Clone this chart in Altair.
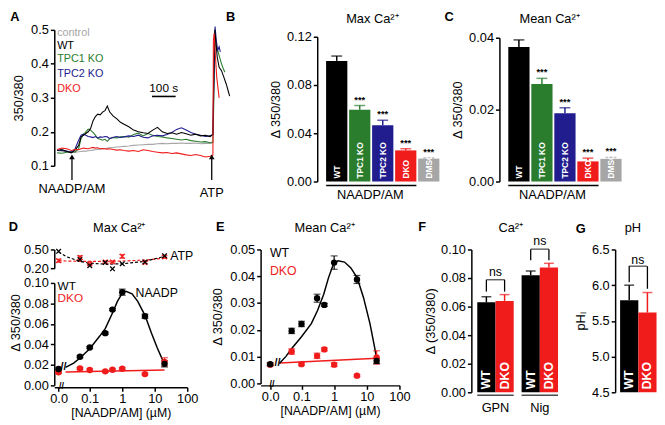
import altair as alt
import pandas as pd

FONT = "Liberation Sans"
BLACK = "#000000"
GREEN = "#2b7d2e"
BLUE = "#211d8f"
RED = "#f01c1c"
DMSO_GRAY = "#a8a19f"
CTRL_GRAY = "#a6a6a6"

# ---------------- Panel A : single-cell traces ----------------
a_time = [0, 20, 40, 60, 75, 90, 100, 110, 120, 130, 140, 150, 160, 170, 180, 190, 200, 210, 220, 235,
          250, 265, 280, 300, 320, 340, 360, 380, 400, 420, 440, 460, 480, 500, 520, 540, 560, 580,
          600, 620, 640, 652]
a_control = [0.145, 0.143, 0.142, 0.140, 0.140, 0.141, 0.142, 0.143, 0.143, 0.144,
             0.145, 0.146, 0.147, 0.148, 0.149, 0.150, 0.150, 0.152, 0.153, 0.154,
             0.155, 0.156, 0.157, 0.158, 0.160, 0.161, 0.162, 0.163, 0.163, 0.165,
             0.166, 0.165, 0.166, 0.166, 0.167, 0.166, 0.166, 0.167, 0.165, 0.166,
             0.166, 0.167]
a_wt = [0.145, 0.148, 0.142, 0.138, 0.146, 0.160, 0.185, 0.190, 0.195, 0.200,
        0.210, 0.232, 0.245, 0.252, 0.250, 0.258, 0.262, 0.276, 0.258, 0.246,
        0.238, 0.228, 0.222, 0.215, 0.205, 0.200, 0.197, 0.195, 0.205, 0.213,
        0.200, 0.195, 0.197, 0.193, 0.198, 0.194, 0.190, 0.193, 0.188, 0.190,
        0.186, 0.192]
a_tpc1 = [0.138, 0.137, 0.140, 0.142, 0.140, 0.150, 0.180, 0.192, 0.200, 0.208,
          0.205, 0.198, 0.190, 0.180, 0.178, 0.175, 0.178, 0.172, 0.180, 0.183,
          0.182, 0.185, 0.186, 0.184, 0.192, 0.196, 0.188, 0.195, 0.190, 0.186,
          0.185, 0.182, 0.180, 0.178, 0.176, 0.178, 0.174, 0.172, 0.170, 0.171,
          0.168, 0.170]
a_tpc2 = [0.146, 0.145, 0.143, 0.140, 0.150, 0.175, 0.190, 0.193, 0.190, 0.186,
          0.185, 0.183, 0.186, 0.182, 0.185, 0.184, 0.186, 0.185, 0.180, 0.184,
          0.186, 0.183, 0.185, 0.188, 0.186, 0.190, 0.184, 0.182, 0.188, 0.190,
          0.188, 0.192, 0.198, 0.207, 0.212, 0.205, 0.198, 0.193, 0.190, 0.186,
          0.188, 0.192]
a_dko = [0.148, 0.152, 0.150, 0.145, 0.148, 0.147, 0.150, 0.152, 0.151, 0.150,
         0.152, 0.154, 0.152, 0.153, 0.150, 0.151, 0.150, 0.149, 0.150, 0.148,
         0.146, 0.147, 0.145, 0.143, 0.145, 0.142, 0.147, 0.145, 0.142, 0.140,
         0.138, 0.139, 0.136, 0.138, 0.135, 0.132, 0.130, 0.133, 0.130, 0.126,
         0.128, 0.131]
# after ATP
a_wt_atp_t = [656, 660, 665, 670, 678, 688, 698, 708, 716, 722]
a_wt_atp_v = [0.40, 0.50, 0.46, 0.42, 0.39, 0.38, 0.36, 0.34, 0.32, 0.305]
a_tpc1_atp_t = [656, 661, 666, 672, 680, 688, 696, 702]
a_tpc1_atp_v = [0.30, 0.47, 0.45, 0.44, 0.42, 0.40, 0.385, 0.375]
a_tpc2_atp_t = [656, 661, 666, 672, 678, 683]
a_tpc2_atp_v = [0.35, 0.51, 0.47, 0.44, 0.45, 0.435]
a_dko_atp_t = [654, 657, 661, 668, 678]
a_dko_atp_v = [0.47, 0.49, 0.44, 0.36, 0.30]

a_names = ["control", "WT", "TPC1 KO", "TPC2 KO", "DKO"]
a_colors = [CTRL_GRAY, BLACK, GREEN, BLUE, RED]
a_legend_v = [0.490, 0.452, 0.413, 0.370, 0.327]

# ---------------- Panels B, C ----------------
bc_cats = ["WT", "TPC1 KO", "TPC2 KO", "DKO", "DMSO"]
bc_colors = [BLACK, GREEN, BLUE, RED, DMSO_GRAY]
bc_sig = ["", "***", "***", "***", "***"]
b_max = [0.100, 0.0595, 0.0467, 0.0258, 0.0190]
b_max_err = [0.0040, 0.0035, 0.0041, 0.0014, 0.0006]
c_mean = [0.0374, 0.0271, 0.0190, 0.0056, 0.0063]
c_mean_err = [0.0020, 0.0016, 0.0015, 0.0009, 0.0004]

# ---------------- Panels D, E ----------------
conc = [0.011, 0.05, 0.1, 0.3, 0.5, 1, 5, 20]   # first point is "0.0"
d_max_wt = [0.016, 0.028, 0.037, 0.051, 0.074, 0.091, 0.0675, 0.021]
d_max_wt_err = [0.001, 0.001, 0.001, 0.001, 0.001, 0.003, 0.002, 0.003]
d_max_dko = [0.0127, 0.0166, 0.0150, 0.0137, 0.0153, 0.0163, 0.0110, 0.0230]
d_max_dko_err = [0.001, 0.001, 0.001, 0.001, 0.001, 0.001, 0.001, 0.004]
d_fit_x = [0.018, 0.032, 0.05, 0.1, 0.2, 0.3, 0.5, 0.71, 1.0, 1.3, 2.0, 3.0, 5.0, 7.9, 12, 20]
d_fit_wt = [0.0176, 0.0218, 0.0267, 0.0358, 0.0479, 0.0554, 0.0707, 0.082, 0.090, 0.0919,
            0.0893, 0.082, 0.0684, 0.0511, 0.0365, 0.0205]
d_fit_dko_x = [0.018, 20]
d_fit_dko = [0.0130, 0.0150]
atp_wt = [0.47, 0.34, 0.24, 0.29, 0.19, 0.27, 0.30, 0.40]
atp_dko = [0.32, 0.37, 0.27, 0.30, 0.30, 0.39, 0.29, 0.38]
atp_dko_err = [0.025, 0.03, 0.015, 0.015, 0.015, 0.03, 0.02, 0.02]
atp_fit_x = [0.011, 0.02, 0.05, 0.1, 0.3, 1, 5, 20]
atp_fit_wt = [0.46, 0.38, 0.31, 0.28, 0.265, 0.27, 0.31, 0.39]
atp_fit_dko = [0.32, 0.315, 0.31, 0.31, 0.31, 0.315, 0.33, 0.36]

e_mean_wt = [0.0072, 0.0196, 0.0222, 0.0318, 0.0293, 0.0451, 0.0388, 0.0084]
e_mean_wt_err = [0.0005, 0.001, 0.001, 0.0015, 0.0006, 0.0025, 0.0015, 0.001]
e_mean_dko = [0.0070, 0.0119, 0.0072, 0.0103, 0.0127, 0.0070, 0.0029, 0.0097]
e_mean_dko_err = [0.0005, 0.001, 0.0005, 0.001, 0.0006, 0.0007, 0.0004, 0.0025]
e_fit_x = [0.021, 0.033, 0.051, 0.1, 0.2, 0.31, 0.48, 0.67, 0.94, 1.32, 2.07, 3.25, 5.07,
           7.9, 12.5, 17.0, 20.5]
e_fit_wt = [0.0074, 0.0100, 0.0131, 0.0174, 0.0223, 0.0272, 0.0333, 0.0394, 0.0444, 0.0458,
            0.0453, 0.0431, 0.0394, 0.0321, 0.0223, 0.0140, 0.0085]
e_fit_dko_x = [0.021, 20.5]
e_fit_dko = [0.0076, 0.0094]

# ---------------- Panels F, G ----------------
f_group = ["GPN", "GPN", "Nig", "Nig"]
f_geno = ["WT", "DKO", "WT", "DKO"]
f_val = [0.0630, 0.0640, 0.0820, 0.0874]
f_err = [0.0039, 0.0044, 0.0029, 0.0029]
f_leg = [0.0705, 0.0705, 0.0925, 0.0925]
f_br_group = ["GPN", "Nig"]
f_br_top = [0.0788, 0.1002]
f_ns_y = [0.0845, 0.1062]

g_group = ["pH", "pH"]
g_geno = ["WT", "DKO"]
g_val = [5.79, 5.617]
g_err = [0.21, 0.28]
g_leg = [6.04, 5.95]
g_br_top = [6.266]
g_ns_y = [6.345]

GENO = ["WT", "DKO"]
GENO_COL = [BLACK, RED]
geno_color = alt.Color("g:N", scale=alt.Scale(domain=GENO, range=GENO_COL), legend=None)


def letter_mark(ch, dx, dy):
    return alt.Chart(pd.DataFrame({"s": [ch]})).mark_text(
        font=FONT, fontSize=13, fontWeight="bold", align="center", baseline="middle", color="black"
    ).encode(x=alt.value(dx), y=alt.value(dy), text="s:N")


def title_mark(txt, cx, dy):
    return alt.Chart(pd.DataFrame({"s": [txt]})).mark_text(
        font=FONT, fontSize=13, align="center", baseline="middle", color="black"
    ).encode(x=alt.value(cx), y=alt.value(dy), text="s:N")


# ======================= A =======================
A_W, A_H = 180, 138
a_x = alt.X("t:Q", scale=alt.Scale(domain=[-12, 730], nice=False), axis=None)
a_yax = alt.Axis(values=[0.1, 0.2, 0.3, 0.4, 0.5], format=".1f", title="350/380", titlePadding=5)
a_ysc = alt.Scale(domain=[0.1, 0.5], nice=False)
a_col = alt.Color("g:N", scale=alt.Scale(domain=a_names, range=a_colors), legend=None)


def a_y(field):
    return alt.Y(field, type="quantitative", scale=a_ysc, axis=a_yax)


series = {
    "control": (a_time, a_control),
    "WT": (a_time + a_wt_atp_t, a_wt + a_wt_atp_v),
    "TPC1 KO": (a_time + a_tpc1_atp_t, a_tpc1 + a_tpc1_atp_v),
    "TPC2 KO": (a_time + a_tpc2_atp_t, a_tpc2 + a_tpc2_atp_v),
    "DKO": (a_time + a_dko_atp_t, a_dko + a_dko_atp_v),
}
a_layers = []
for name in ["control", "TPC1 KO", "TPC2 KO", "WT", "DKO"]:
    t, v = series[name]
    df = pd.DataFrame({"t": t, "v": v, "g": name})
    a_layers.append(alt.Chart(df).mark_line(strokeWidth=1.1).encode(
        x=a_x, y=a_y("v"), color=a_col, order="t:Q"))

a_leg_df = pd.DataFrame({"t": [0] * 5, "v": a_legend_v, "g": a_names})
a_layers.append(alt.Chart(a_leg_df).mark_text(font=FONT, fontSize=11, align="left", baseline="middle").encode(
    x=a_x, y=a_y("v"), text="g:N", color=a_col))
a_bar_df = pd.DataFrame({"t": [397], "t2": [496], "v": [0.304]})
a_layers.append(alt.Chart(a_bar_df).mark_rule(strokeWidth=1.6, color="black").encode(
    x=a_x, x2="t2:Q", y=a_y("v")))
a_bartxt_df = pd.DataFrame({"t": [446], "v": [0.328], "s": ["100 s"]})
a_layers.append(alt.Chart(a_bartxt_df).mark_text(font=FONT, fontSize=12, baseline="middle").encode(
    x=a_x, y=a_y("v"), text="s:N"))
a_arr_df = pd.DataFrame({"t": [62, 647], "v1": [0.058, 0.058], "v2": [0.126, 0.126],
                         "lab": ["NAADP/AM", "ATP"], "lv": [0.031, 0.020]})
a_layers.append(alt.Chart(a_arr_df).mark_rule(strokeWidth=1.3, color="black").encode(
    x=a_x, y=a_y("v1"), y2="v2:Q"))
a_layers.append(alt.Chart(a_arr_df).mark_point(shape="triangle-up", filled=True, size=32, color="black",
                                               opacity=1).encode(x=a_x, y=a_y("v2")))
a_layers.append(alt.Chart(a_arr_df).mark_text(font=FONT, fontSize=13, baseline="middle").encode(
    x=a_x, y=a_y("lv"), text="lab:N"))
a_layers.append(letter_mark("A", -40, -13))
chartA = alt.layer(*a_layers).properties(width=A_W, height=A_H)


# ======================= B, C =======================
def bar_panel(vals, errs, ymax, yvals, title, title_cx, title_dy, letter, l_dx, l_dy, top_px):
    W, H = 126, 154
    df = pd.DataFrame({"c": bc_cats, "v": vals, "hi": [v + e for v, e in zip(vals, errs)], "s": bc_sig})
    xsc = alt.Scale(domain=bc_cats, paddingInner=0.077, paddingOuter=0.235, align=0.82)
    x = alt.X("c:N", scale=xsc, axis=None)
    ysc = alt.Scale(domain=[0, ymax], range=[H, top_px], nice=False)
    yax = alt.Axis(values=yvals, format=".2f", title="Δ 350/380", titlePadding=4)
    col = alt.Color("c:N", scale=alt.Scale(domain=bc_cats, range=bc_colors), legend=None)

    def y(field):
        return alt.Y(field, type="quantitative", scale=ysc, axis=yax)

    base = alt.Chart(df)
    layers = [
        base.mark_bar().encode(x=x, y=y("v"), color=col),
        base.mark_rule(strokeWidth=1.5).encode(x=x, y=y("v"), y2="hi:Q", color=col),
        base.mark_tick(thickness=1.5, size=11).encode(x=x, y=y("hi"), color=col),
        base.mark_text(font=FONT, fontSize=9.5, fontWeight="bold", baseline="middle", dy=-6,
                       color="black").encode(x=x, y=y("hi"), text="s:N"),
        base.mark_text(font=FONT, angle=270, align="left", baseline="middle", dx=3, color="white",
                       fontWeight="bold", fontSize=8.5).encode(x=x, y=alt.datum(0), text="c:N"),
        alt.Chart(pd.DataFrame({"a": ["WT"], "b": ["DKO"]})).mark_rule(strokeWidth=1.5, color="black").encode(
            x=alt.X("a:N", scale=xsc, axis=None, bandPosition=0), x2=alt.X2("b", bandPosition=1),
            y=alt.value(H + 4)),
        alt.Chart(pd.DataFrame({"a": ["TPC1 KO"], "s": ["NAADP/AM"]})).mark_text(
            font=FONT, fontSize=13, baseline="middle").encode(
            x=alt.X("a:N", scale=xsc, axis=None, bandPosition=1), y=alt.value(H + 14), text="s:N"),
        letter_mark(letter, l_dx, l_dy),
        title_mark(title, title_cx, title_dy),
    ]
    return alt.layer(*layers).properties(width=W, height=H)


chartB = bar_panel(b_max, b_max_err, 0.12, [0, 0.04, 0.08, 0.12], "Max Ca²⁺", 56, -11, "B", -88, -13, 7)
chartC = bar_panel(c_mean, c_mean_err, 0.04, [0, 0.01, 0.02, 0.03, 0.04], "Mean Ca²⁺", 51, -11, "C", -51, -13, 8)

# ======================= D, E =======================
LABEL_EXPR = "datum.value < 0.05 ? '0.0' : (datum.value < 0.5 ? '0.1' : format(datum.value, 'd'))"
XSHAPE = "M-1,-1L1,1M-1,1L1,-1"


def conc_x(dmin):
    return alt.X("x:Q", scale=alt.Scale(type="log", domain=[dmin, 100], nice=False),
                 axis=alt.Axis(values=[0.011, 0.1, 1, 10, 100], labelExpr=LABEL_EXPR,
                               title="[NAADP/AM] (µM)", offset=2, labelPadding=1, labelFlush=False,
                               labelOverlap=False, titlePadding=2, titleFontSize=12.5))


def pts_df(xs, wt, wt_e, dko, dko_e):
    rows = []
    for g, vals, errs in (("DKO", dko, dko_e), ("WT", wt, wt_e)):
        for xv, v, e in zip(xs, vals, errs):
            rows.append({"x": xv, "v": v, "lo": v - e, "hi": v + e, "g": g})
    return pd.DataFrame(rows)


def fit_df(xw, yw, xd, yd):
    return pd.concat([pd.DataFrame({"x": xd, "v": yd, "g": "DKO"}),
                      pd.DataFrame({"x": xw, "v": yw, "g": "WT"})])


def dose_layers(x, yfun, pts, fits):
    bp = alt.Chart(pts)
    return [
        alt.Chart(fits).mark_line(strokeWidth=1.5).encode(x=x, y=yfun("v", True), color=geno_color,
                                                           detail="g:N"),
        bp.mark_rule(strokeWidth=1.2).encode(x=x, y=yfun("lo"), y2="hi:Q", color=geno_color),
        bp.mark_tick(thickness=1.2, size=7, orient="horizontal").encode(x=x, y=yfun("hi"), color=geno_color),
        bp.mark_tick(thickness=1.2, size=7, orient="horizontal").encode(x=x, y=yfun("lo"), color=geno_color),
        bp.mark_circle(size=42, opacity=1).encode(x=x, y=yfun("v"), color=geno_color),
    ]


def break_mark(x, xv, yv=None, px=None):
    df = pd.DataFrame({"x": [xv], "v": [yv if yv is not None else 0], "s": ["//"]})
    mk = alt.Chart(df).mark_text(font=FONT, fontSize=9.5, fontWeight="bold", baseline="middle")
    return mk, df


# ---- D
D_W, D_H = 135, 138
d_x = conc_x(0.0081)
d_main_sc = alt.Scale(domain=[0, 0.1], range=[D_H, 34], nice=False)
d_atp_sc = alt.Scale(domain=[0.2, 0.5], range=[19, 0], nice=False)
d_main_ax = alt.Axis(values=[0, 0.02, 0.04, 0.06, 0.08, 0.10], format=".2f", title="Δ 350/380",
                     titlePadding=1.5, titleY=74, orient="left")
d_atp_ax = alt.Axis(values=[0.2, 0.5], format=".2f", title=None, orient="left")


def d_y(field, with_axis=False):
    return alt.Y(field, type="quantitative", scale=d_main_sc, axis=d_main_ax if with_axis else None)


def d_ya(field, with_axis=False):
    return alt.Y(field, type="quantitative", scale=d_atp_sc, axis=d_atp_ax if with_axis else None)


atp_fits = fit_df(atp_fit_x, atp_fit_wt, atp_fit_x, atp_fit_dko)
atp_pts = pts_df(conc, atp_wt, [0] * len(conc), atp_dko, atp_dko_err)
atp_dko_pts = atp_pts[atp_pts.g == "DKO"]
d_layers = [
    alt.Chart(atp_fits).mark_line(strokeWidth=1.2, strokeDash=[3, 2]).encode(
        x=d_x, y=d_ya("v", True), color=geno_color, detail="g:N"),
    alt.Chart(atp_dko_pts).mark_rule(strokeWidth=1.2).encode(x=d_x, y=d_ya("lo"), y2="hi:Q", color=geno_color),
    alt.Chart(atp_dko_pts).mark_tick(thickness=1.2, size=6, orient="horizontal").encode(
        x=d_x, y=d_ya("hi"), color=geno_color),
    alt.Chart(atp_dko_pts).mark_tick(thickness=1.2, size=6, orient="horizontal").encode(
        x=d_x, y=d_ya("lo"), color=geno_color),
    alt.Chart(atp_pts).mark_point(shape=XSHAPE, filled=False, size=22, strokeWidth=1.3, opacity=1).encode(
        x=d_x, y=d_ya("v"), color=geno_color),
]
d_layers += dose_layers(d_x, d_y, pts_df(conc, d_max_wt, d_max_wt_err, d_max_dko, d_max_dko_err),
                        fit_df(d_fit_x, d_fit_wt, d_fit_dko_x, d_fit_dko))
d_txt = pd.DataFrame({"x": [0.0102, 0.0102, 11.5], "v": [0.0972, 0.0850, 0.0905],
                      "s": ["WT", "DKO", "NAADP"], "g": ["WT", "DKO", "WT"]})
d_layers += [
    alt.Chart(d_txt).mark_text(font=FONT, fontSize=12, baseline="middle", align="left").encode(
        x=d_x, y=d_y("v"), text="s:N", color=geno_color).transform_filter("datum.s != 'NAADP'"),
    alt.Chart(d_txt).mark_text(font=FONT, fontSize=12.5, baseline="middle", align="center").encode(
        x=d_x, y=d_y("v"), text="s:N").transform_filter("datum.s == 'NAADP'"),
    alt.Chart(pd.DataFrame({"x": [30], "v": [0.40], "s": ["ATP"]})).mark_text(
        font=FONT, fontSize=12.5, baseline="middle", align="left").encode(x=d_x, y=d_ya("v"), text="s:N"),
    alt.Chart(pd.DataFrame({"x": [0.0155], "v": [0.018], "s": ["//"]})).mark_text(
        font=FONT, fontSize=11, fontWeight="bold", baseline="middle").encode(x=d_x, y=d_y("v"), text="s:N"),
    alt.Chart(pd.DataFrame({"x": [0.0135], "s": ["//"]})).mark_text(
        font=FONT, fontSize=9, fontWeight="bold", baseline="middle").encode(
        x=d_x, y=alt.value(D_H + 1), text="s:N"),
    letter_mark("D", -41.5, -23),
    title_mark("Max Ca²⁺", 66, -22),
]
chartD = alt.layer(*d_layers).resolve_scale(y="independent").properties(width=D_W, height=D_H)

# ---- E
E_W, E_H = 141, 136
e_x = conc_x(0.0056)
e_sc = alt.Scale(domain=[0, 0.05], nice=False)
e_ax = alt.Axis(values=[0, 0.01, 0.02, 0.03, 0.04, 0.05], format=".2f", title="Δ 350/380", titlePadding=5)


def e_y(field, with_axis=False):
    return alt.Y(field, type="quantitative", scale=e_sc, axis=e_ax)


e_layers = dose_layers(e_x, e_y, pts_df(conc, e_mean_wt, e_mean_wt_err, e_mean_dko, e_mean_dko_err),
                       fit_df(e_fit_x, e_fit_wt, e_fit_dko_x, e_fit_dko))
e_txt = pd.DataFrame({"x": [0.0108, 0.0108], "v": [0.0485, 0.0420], "s": ["WT", "DKO"], "g": ["WT", "DKO"]})
e_layers += [
    alt.Chart(e_txt).mark_text(font=FONT, fontSize=12.5, baseline="middle", align="left").encode(
        x=e_x, y=e_y("v"), text="s:N", color=geno_color),
    alt.Chart(pd.DataFrame({"x": [0.0185], "v": [0.0077], "s": ["//"]})).mark_text(
        font=FONT, fontSize=11, fontWeight="bold", baseline="middle").encode(x=e_x, y=e_y("v"), text="s:N"),
    alt.Chart(pd.DataFrame({"x": [0.0125], "s": ["//"]})).mark_text(
        font=FONT, fontSize=9, fontWeight="bold", baseline="middle").encode(
        x=e_x, y=alt.value(E_H + 1), text="s:N"),
    letter_mark("E", -41, -23),
    title_mark("Mean Ca²⁺", 65, -22),
]
chartE = alt.layer(*e_layers).properties(width=E_W, height=E_H)


# ======================= F, G =======================
def group_bars(groups, genos, vals, errs, legs, br_groups, br_top, ns_y, xsc, xaxis, ysc, yax, H,
               base_val, under):
    df = pd.DataFrame({"grp": groups, "g": genos, "v": vals, "hi": [v + e for v, e in zip(vals, errs)],
                       "leg": legs, "base": [base_val] * len(vals)})
    br = pd.DataFrame({"grp": br_groups, "top": br_top, "ns": ns_y, "s": ["ns"] * len(br_groups)})
    x = alt.X("grp:N", scale=xsc, axis=xaxis)
    xo = alt.XOffset("g:N", scale=alt.Scale(domain=GENO, paddingInner=0, paddingOuter=0))

    def y(field):
        return alt.Y(field, type="quantitative", scale=ysc, axis=yax)

    base = alt.Chart(df)
    layers = [
        base.mark_bar().encode(x=x, xOffset=xo, y=y("v"), y2="base:Q", color=geno_color),
        base.mark_rule(strokeWidth=1.5).encode(x=x, xOffset=xo, y=y("v"), y2="hi:Q", color=geno_color),
        base.mark_tick(thickness=1.5, size=10, orient="horizontal").encode(
            x=x, xOffset=xo, y=y("hi"), color=geno_color),
        base.mark_text(font=FONT, angle=270, align="left", baseline="middle", dx=3, color="white",
                       fontWeight="bold", fontSize=12.5).encode(x=x, xOffset=xo, y=y("base"), text="g:N"),
        base.mark_rule(strokeWidth=1.3, color="black").encode(x=x, xOffset=xo, y=y("leg"), y2="top:Q")
        .transform_lookup(lookup="grp", from_=alt.LookupData(br, "grp", ["top"])),
        alt.Chart(br).mark_tick(thickness=1.3, size=18.5, orient="horizontal", color="black").encode(
            x=x, y=y("top")),
        alt.Chart(br).mark_text(font=FONT, fontSize=12.5, baseline="middle").encode(x=x, y=y("ns"), text="s:N"),
    ]
    if under:
        layers.append(alt.Chart(br).mark_tick(thickness=1.5, size=37, orient="horizontal", color="black").encode(
            x=x, y=alt.value(H + 3)))
    return layers


F_W, F_H = 90, 145
f_xsc = alt.Scale(domain=["GPN", "Nig"], paddingInner=0.178, paddingOuter=0.089, align=0.75)
f_xax = alt.Axis(title=None, domain=False, ticks=False, labelPadding=10, labelAngle=0)
f_ysc = alt.Scale(domain=[0, 0.10], nice=False)
f_yax = alt.Axis(values=[0, 0.02, 0.04, 0.06, 0.08, 0.10], format=".2f", title="Δ (350/380)", titlePadding=3)
f_layers = group_bars(f_group, f_geno, f_val, f_err, f_leg, f_br_group, f_br_top, f_ns_y,
                      f_xsc, f_xax, f_ysc, f_yax, F_H, 0, True)
f_layers += [letter_mark("F", -50, -23), title_mark("Ca²⁺", 40, -22)]
chartF = alt.layer(*f_layers).properties(width=F_W, height=F_H)

G_W, G_H = 41, 145
g_xsc = alt.Scale(domain=["pH"], paddingInner=0, paddingOuter=0.07, align=1)
g_ysc = alt.Scale(domain=[4.5, 6.5], nice=False, zero=False)
g_yax = alt.Axis(values=[4.5, 5.0, 5.5, 6.0, 6.5], format=".1f", title="pHₗ", titlePadding=4)
g_layers = group_bars(g_group, g_geno, g_val, g_err, g_leg, ["pH"], g_br_top, g_ns_y,
                      g_xsc, None, g_ysc, g_yax, G_H, 4.5, False)
g_layers += [letter_mark("G", -35, -21), title_mark("pH", 18, -22)]
chartG = alt.layer(*g_layers).properties(width=G_W, height=G_H)

# ======================= assemble =======================
top = alt.hconcat(chartA, alt.hconcat(chartB, chartC, spacing=3), spacing=-7)
bottom = alt.hconcat(chartD, alt.hconcat(chartE, alt.hconcat(chartF, chartG, spacing=14), spacing=8),
                     spacing=13.5)
chart = alt.vconcat(top, bottom, spacing=19).configure_view(stroke=None).configure_axis(
    labelFont=FONT, titleFont=FONT, labelFontSize=13, titleFontSize=13, titleFontWeight="normal",
    domainColor="black", tickColor="black", labelColor="black", titleColor="black",
    domainWidth=1.5, tickWidth=1.5, tickSize=4, labelPadding=2, grid=False
).configure_text(font=FONT).properties(padding=0)

chart.save("out.html", embed_options={"renderer": "svg", "actions": False})
